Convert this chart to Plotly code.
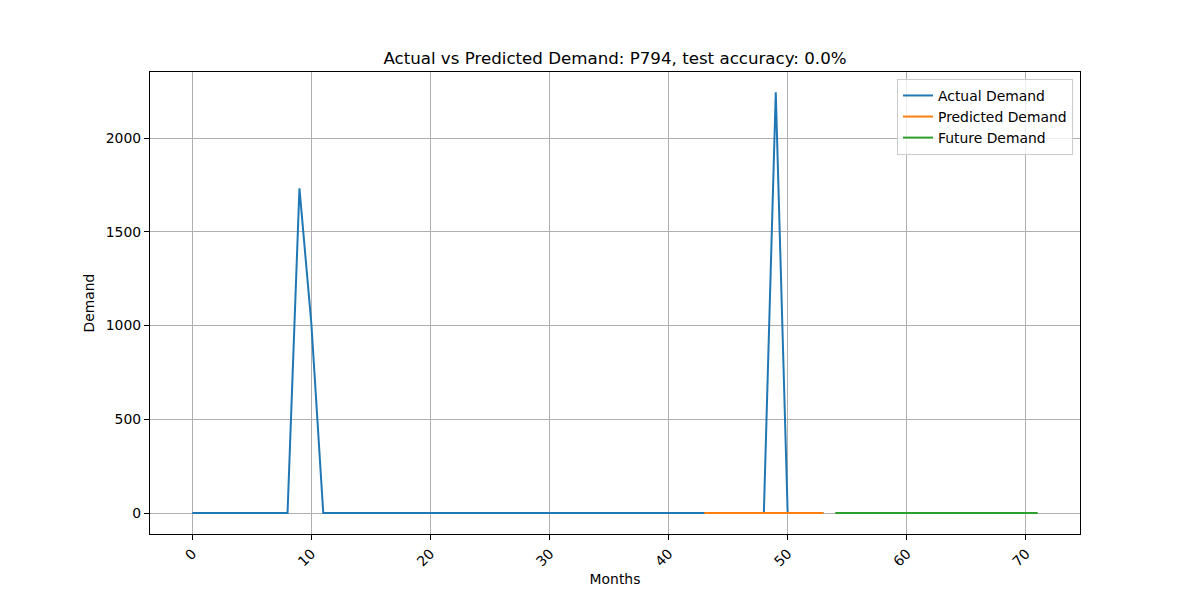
import plotly.graph_objects as go

actual_months = list(range(0, 54))
actual_demand = [0, 0, 0, 0, 0, 0, 0, 0, 0, 1732, 1010, 0,
                 0, 0, 0, 0, 0, 0, 0, 0, 0, 0, 0, 0,
                 0, 0, 0, 0, 0, 0, 0, 0, 0, 0, 0, 0,
                 0, 0, 0, 0, 0, 0, 0, 0, 0, 0, 0, 0,
                 0, 2244, 0, 0, 0, 0]
pred_months = list(range(43, 54))
pred_demand = [0] * 11
future_months = list(range(54, 72))
future_demand = [0] * 18

title_text = "Actual vs Predicted Demand: P794, test accuracy: 0.0%"

FONT = "DejaVu Sans"
FS = 13.9
fig = go.Figure()
fig.add_trace(go.Scatter(x=actual_months, y=actual_demand, mode="lines",
                         name="Actual Demand", line=dict(color="#1f77b4", width=2)))
fig.add_trace(go.Scatter(x=pred_months, y=pred_demand, mode="lines",
                         name="Predicted Demand", line=dict(color="#ff7f0e", width=2)))
fig.add_trace(go.Scatter(x=future_months, y=future_demand, mode="lines",
                         name="Future Demand", line=dict(color="#2ca02c", width=2)))

axis_common = dict(showline=True, linecolor="black", linewidth=1.3, mirror=True,
                   ticks="outside", ticklen=5, tickcolor="black", tickwidth=1,
                   showgrid=True, gridcolor="#b0b0b0", gridwidth=1, zeroline=False,
                   tickfont=dict(family=FONT, size=FS, color="black"))

fig.update_layout(
    width=1200, height=600,
    paper_bgcolor="white", plot_bgcolor="white",
    margin=dict(l=142, r=128, t=64, b=74),
    font=dict(family=FONT, size=FS, color="black"),
    title=dict(text=title_text, x=0.5, xanchor="center", y=0.9167, yanchor="middle",
               xref="paper", yref="container",
               font=dict(family=FONT, size=16.67, color="black")),
    xaxis=dict(range=[-3.55, 74.55], tickvals=[0, 10, 20, 30, 40, 50, 60, 70],
               tickangle=-45,
               title=dict(text="Months", font=dict(family=FONT, size=FS), standoff=5),
               **axis_common),
    yaxis=dict(range=[-112, 2352], tickvals=[0, 500, 1000, 1500, 2000],
               title=dict(text="Demand", font=dict(family=FONT, size=FS), standoff=7),
               **axis_common),
    legend=dict(x=0.9925, y=0.985, xanchor="right", yanchor="top",
                bgcolor="rgba(255,255,255,0.8)", bordercolor="#cccccc", borderwidth=1,
                font=dict(family=FONT, size=FS), tracegroupgap=0),
    showlegend=True,
)

fig.write_html("out.html")
